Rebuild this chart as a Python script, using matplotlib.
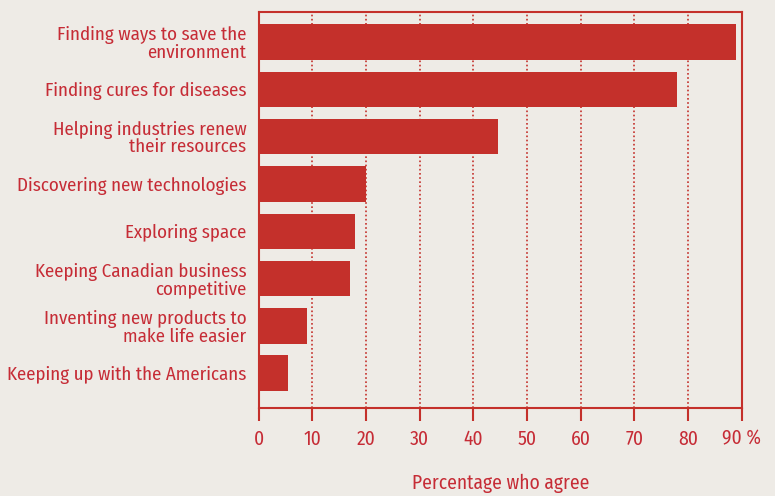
import matplotlib.pyplot as plt

# Data
labels = [
    "Finding ways to save the\nenvironment",
    "Finding cures for diseases",
    "Helping industries renew\ntheir resources",
    "Discovering new technologies",
    "Exploring space",
    "Keeping Canadian business\ncompetitive",
    "Inventing new products to\nmake life easier",
    "Keeping up with the Americans",
]
values = [89, 78, 44.5, 20, 18, 17, 9, 5.5]
ticks = [0, 10, 20, 30, 40, 50, 60, 70, 80, 90]
tick_labels = ["0", "10", "20", "30", "40", "50", "60", "70", "80", "90 %"]

red = "#c4302b"
txt = "#c62c36"
bg = "#eeebe6"

plt.rcParams['font.family'] = ['Fira Sans Condensed', 'DejaVu Sans']

fig = plt.figure(figsize=(7.75, 4.96), dpi=100, facecolor=bg)
ax = fig.add_axes([0.334, 0.177, 0.623, 0.799])
ax.set_facecolor(bg)

pos = list(range(len(labels)))
ax.barh(pos, values, height=0.75, color=red, zorder=3)

ax.set_xlim(0, 90)
ax.set_ylim(7.74, -0.64)

# dotted vertical grid
for t in ticks[1:-1]:
    ax.axvline(t, color=red, linestyle=(0, (1, 1.5)), linewidth=1.2, zorder=1)

for s in ax.spines.values():
    s.set_color(red)
    s.set_linewidth(1.5)

ax.set_xticks(ticks)
ax.set_xticklabels(tick_labels, fontsize=14, color=txt)
ax.tick_params(axis='x', colors=red, length=9, width=1.5, pad=6, labelcolor=txt)
ax.set_yticks(pos)
ax.set_yticklabels(labels, fontsize=13.6, color=txt, linespacing=0.97)
ax.tick_params(axis='y', length=0, pad=9)

ax.set_xlabel("Percentage who agree", fontsize=14, color=txt, labelpad=18)

fig.savefig("out.png", dpi=100, facecolor=bg)
